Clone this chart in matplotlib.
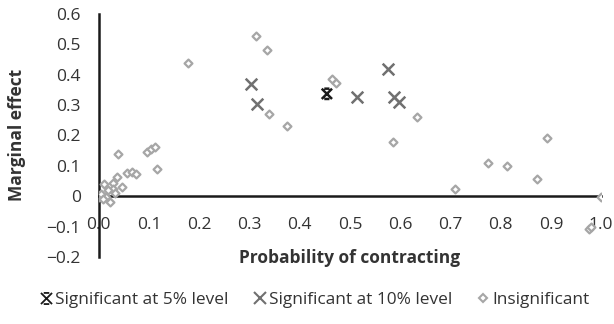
import matplotlib.pyplot as plt
from matplotlib.lines import Line2D
from matplotlib.path import Path

plt.rcParams['font.family'] = ['Open Sans', 'DejaVu Sans']

# significant at 5% level
sig5_x = [0.454]
sig5_y = [0.337]

# significant at 10% level
sig10_x = [0.303, 0.315, 0.514, 0.576, 0.588, 0.598]
sig10_y = [0.370, 0.304, 0.327, 0.419, 0.327, 0.310]

# insignificant
ins_x = [0.177, 0.313, 0.335, 0.339, 0.375, 0.464, 0.472, 0.633, 0.585,
         0.892, 0.775, 0.813, 0.873, 0.709, 1.000, 0.975, 0.980,
         0.038, 0.095, 0.103, 0.111, 0.115, 0.056, 0.066, 0.074, 0.036,
         0.010, 0.028, 0.046, 0.028, 0.018, 0.002, 0.000, 0.006, 0.014,
         0.022, 0.032, 0.004, 0.008]
ins_y = [0.439, 0.528, 0.482, 0.271, 0.231, 0.386, 0.373, 0.261, 0.178,
         0.191, 0.109, 0.101, 0.056, 0.024, -0.003, -0.109, -0.100,
         0.139, 0.145, 0.155, 0.162, 0.089, 0.076, 0.080, 0.072, 0.063,
         0.040, 0.043, 0.030, 0.023, 0.020, 0.003, -0.003, 0.000, -0.002,
         -0.020, 0.010, 0.008, -0.008]

# X with short caps top and bottom (excel "star" marker)
star = Path([(-1, -1), (1, 1), (-1, 1), (1, -1),
             (-0.5, 1), (0.5, 1), (-0.5, -1), (0.5, -1)],
            [Path.MOVETO, Path.LINETO] * 4)

fig = plt.figure(figsize=(6.14, 3.24), dpi=100)
ax = fig.add_axes([0.161, 0.207, 0.818, 0.75])

ax.scatter(ins_x, ins_y, marker='D', s=16, facecolors='white',
           edgecolors='#a6a6a6', linewidths=1.6, zorder=3)
ax.scatter(sig10_x, sig10_y, marker='x', s=70, color='#707070',
           linewidths=1.8, zorder=4)
ax.scatter(sig5_x, sig5_y, marker=star, s=55, facecolors='none',
           edgecolors='#1a1a1a', linewidths=1.8, zorder=5)

ax.set_xlim(0, 1.0)
ax.set_ylim(-0.2, 0.6)
ax.set_xticks([i / 10 for i in range(11)])
ax.set_xticklabels(['0.0', '0.1', '0.2', '0.3', '0.4', '0.5', '0.6', '0.7',
                    '0.8', '0.9', '1.0'])
ax.set_yticks([-0.2, -0.1, 0, 0.1, 0.2, 0.3, 0.4, 0.5, 0.6])
ax.set_yticklabels(['\u22120.2', '\u22120.1', '0', '0.1', '0.2', '0.3',
                    '0.4', '0.5', '0.6'])

ax.spines['top'].set_visible(False)
ax.spines['right'].set_visible(False)
ax.spines['bottom'].set_position(('data', 0))
ax.spines['bottom'].set_linewidth(1.8)
ax.spines['left'].set_linewidth(1.8)
ax.spines['bottom'].set_color('#1a1a1a')
ax.spines['left'].set_color('#1a1a1a')
ax.tick_params(axis='x', length=0, pad=15, labelsize=12.5, labelcolor='#333333')
ax.tick_params(axis='y', length=0, pad=13, labelsize=12.5, labelcolor='#333333')

fig.text(0.57, 0.205, 'Probability of contracting', ha='center', va='center',
         fontsize=12.5, fontweight='bold', color='#333333')
fig.text(0.028, 0.582, 'Marginal effect', ha='center', va='center',
         rotation=90, fontsize=12.5, fontweight='bold', color='#333333')

handles = [
    Line2D([], [], linestyle='none', marker=star, markersize=8,
           markerfacecolor='none', markeredgecolor='#1a1a1a',
           markeredgewidth=1.3),
    Line2D([], [], linestyle='none', marker='x', markersize=9,
           color='#707070', markeredgewidth=1.5),
    Line2D([], [], linestyle='none', marker='D', markersize=4,
           markerfacecolor='white', markeredgecolor='#a6a6a6',
           markeredgewidth=1.5),
]
labels = ['Significant at 5% level', 'Significant at 10% level', 'Insignificant']
fig.legend(handles, labels, loc='center', bbox_to_anchor=(0.512, 0.073),
           ncol=3, frameon=False, fontsize=12.4, handlelength=0.8,
           handletextpad=0.15, columnspacing=1.4, labelcolor='#333333')

fig.savefig('out.png', dpi=100)
